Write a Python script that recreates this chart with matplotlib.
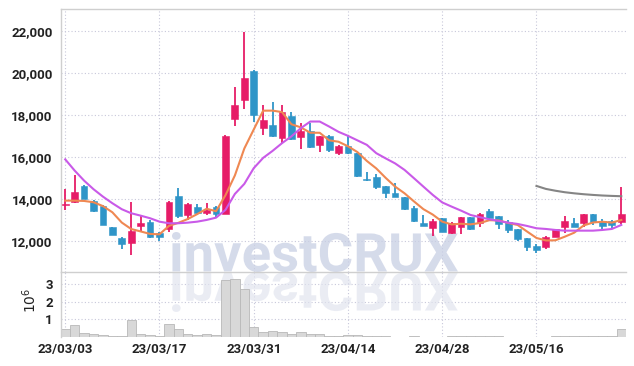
import numpy as np
import matplotlib
matplotlib.use("Agg")
import matplotlib.pyplot as plt
import matplotlib.ticker as mticker
from matplotlib.textpath import TextPath
from matplotlib.font_manager import FontProperties
from matplotlib.patches import PathPatch
from matplotlib.transforms import Affine2D, IdentityTransform

# trading days (yy/mm/dd)
dates = (
    ["23/03/%02d" % d for d in [3, 6, 7, 8, 9, 10, 13, 14, 15, 16, 17, 20, 21, 22, 23, 24, 27, 28, 29, 30, 31]]
    + ["23/04/%02d" % d for d in [3, 4, 5, 6, 7, 10, 11, 12, 13, 14, 17, 18, 19, 20, 21, 24, 25, 26, 27, 28]]
    + ["23/05/%02d" % d for d in [2, 3, 4, 8, 9, 10, 11, 12, 15, 16, 17, 18, 19, 22, 23, 24, 25, 26, 30]]
)

opens = [13730, 13883, 14632, 13916, 13677, 12660, 12149, 11925, 12736, 12913,
         12402, 12565, 14155, 13247, 13629, 13357, 13644, 13295, 17817, 18724,
         20123, 17387, 17545, 16939, 17989, 16986, 17273, 16576, 17020, 16222,
         16542, 16193, 14952, 15076, 14632, 14312, 14093, 13596, 12879, 12641,
         13108, 12374, 12689, 13137, 12851, 13438, 13200, 12927, 12578, 12135,
         11767, 11705, 12211, 12689, 12879, 12851, 13280, 12975, 12961, 12927]
highs = [14475, 15157, 14680, 13950, 13700, 12680, 12200, 13883, 13233, 13000,
         12450, 13930, 14522, 13800, 13758, 13806, 13660, 17050, 19326, 21952,
         20150, 18500, 18658, 18500, 18180, 17626, 17626, 17030, 17040, 16560,
         17067, 16200, 15315, 15190, 14650, 14761, 14100, 13677, 13247, 13040,
         13120, 12927, 13150, 13150, 13357, 13534, 13210, 13010, 12590, 12150,
         11862, 12220, 12580, 13214, 13118, 13310, 13300, 13056, 13000, 14570]
lows = [13486, 13806, 13990, 13400, 12750, 12290, 11638, 11337, 12450, 12150,
        12020, 12435, 13090, 13010, 13247, 13247, 13090, 13290, 17497, 18295,
        17703, 17067, 16986, 16671, 16829, 16385, 16432, 16270, 16270, 16112,
        16150, 15076, 14880, 14489, 14045, 14100, 13490, 12927, 12700, 12244,
        12420, 12340, 12340, 12550, 12689, 13010, 12565, 12402, 12006, 11543,
        11447, 11609, 12200, 12374, 12680, 12689, 12770, 12578, 12609, 12818]
closes = [13790, 14331, 14026, 13438, 12770, 12307, 11877, 12484, 12865, 12183,
          12211, 13883, 13214, 13772, 13357, 13486, 13295, 17020, 18500, 19775,
          18022, 17784, 17034, 18151, 16876, 17273, 16509, 17020, 16351, 16542,
          16193, 15124, 14904, 14570, 14283, 14121, 13520, 12975, 12722, 12975,
          12450, 12851, 13137, 12578, 13295, 13118, 12803, 12531, 12101, 11734,
          11576, 12211, 12565, 12961, 12689, 13295, 12927, 12736, 12770, 13295]

# moving averages
ma5 = [13930, 13930, 13915, 13853, 13669, 13374, 12884, 12575, 12461, 12343,
       12324, 12725, 12871, 13053, 13287, 13542, 13425, 14186, 15132, 16415,
       17322, 18220, 18223, 18153, 17573, 17424, 17169, 17166, 16806, 16739,
       16523, 16246, 15823, 15467, 15015, 14600, 14280, 13894, 13524, 13263,
       12928, 12795, 12827, 12798, 12862, 12996, 12986, 12865, 12770, 12457,
       12149, 12031, 12037, 12209, 12400, 12744, 12887, 12922, 12883, 13005]
ma20 = [15898, 15363, 14885, 14475, 14121, 13806, 13520, 13328, 13214, 13090,
        12927, 12851, 12851, 12880, 12927, 13009, 13118, 13486, 14250, 14728,
        15478, 15969, 16303, 16671, 16996, 17387, 17703, 17703, 17464, 17211,
        17020, 16805, 16590, 16194, 15945, 15706, 15396, 15000, 14599, 14202,
        13844, 13644, 13453, 13247, 13138, 13042, 12961, 12880, 12818, 12722,
        12612, 12579, 12531, 12498, 12498, 12498, 12498, 12531, 12579, 12770]
ma_long_idx = [50, 51, 52, 53, 54, 55, 56, 57, 58, 59]
ma_long = [14631, 14489, 14403, 14331, 14279, 14236, 14202, 14174, 14155, 14140]

# volume in millions
volume = [0.43, 0.70, 0.20, 0.17, 0.10, 0.05, 0.04, 0.98, 0.15, 0.10,
          0.03, 0.76, 0.43, 0.15, 0.12, 0.15, 0.10, 3.20, 3.26, 2.70,
          0.54, 0.30, 0.35, 0.30, 0.15, 0.26, 0.15, 0.15, 0.07, 0.05,
          0.13, 0.13, 0.03, 0.03, 0.07, 0.02, 0.02, 0.03, 0.02, 0.02,
          0.02, 0.04, 0.04, 0.04, 0.03, 0.04, 0.03, 0.02, 0.02, 0.02,
          0.02, 0.02, 0.08, 0.08, 0.04, 0.05, 0.03, 0.03, 0.03, 0.45]

UP = "#e61c67"
DOWN = "#2f95c8"
GRID = "#c8c8da"
SPINE = "#cfcfcf"
TXT = "#222222"
FONT = ["Roboto", "DejaVu Sans"]

plt.rcParams["font.family"] = FONT

W, H = 634, 366
fig = plt.figure(figsize=(W / 100, H / 100), dpi=100)
L, R = 61 / W, 626 / W
ax = fig.add_axes([L, 1 - 272 / H, R - L, (272 - 9) / H])
axv = fig.add_axes([L, 1 - 337 / H, R - L, (337 - 272) / H], sharex=ax)

x = np.arange(len(dates))
o, h, l, c = map(np.array, (opens, highs, lows, closes))
up = c >= o
cols = np.where(up, UP, DOWN)
body_lo = np.minimum(o, c)
body_h = np.maximum(np.abs(c - o), 40)

ax.vlines(x, l, h, colors=cols, lw=1.3, zorder=3)
ax.bar(x, body_h, bottom=body_lo, width=0.72, color=cols, edgecolor=cols,
       linewidth=0.4, zorder=4)

ax.plot(x, ma5, color="#ef8852", lw=1.5, zorder=5)
ax.plot(x, ma20, color="#c95ae8", lw=1.5, zorder=5)
ax.plot(ma_long_idx, ma_long, color="#858585", lw=1.5, zorder=5)

ax.set_xlim(-0.45, 59.5)
ax.set_ylim(10526, 23070)
ax.yaxis.set_major_locator(mticker.MultipleLocator(2000))
ax.yaxis.set_major_formatter(mticker.FuncFormatter(lambda v, p: f"{v:,.0f}"))

tick_idx = [0, 10, 20, 30, 40, 50]
for a in (ax, axv):
    a.set_xticks(tick_idx)
    a.grid(True, color=GRID, linestyle=(0, (1, 2)), linewidth=0.8)
    a.set_axisbelow(True)
    for s in ("right", "bottom"):
        a.spines[s].set_visible(False)
    for s in ("left", "top"):
        a.spines[s].set_color(SPINE)
        a.spines[s].set_linewidth(1.0)
    a.tick_params(length=0, labelsize=9.5, labelcolor=TXT, pad=6)

ax.tick_params(labelbottom=False)
axv.set_xticklabels([dates[i] for i in tick_idx])
axv.tick_params(axis="x", pad=4)

axv.bar(x, volume, width=1.0, color="#d8d8d8", edgecolor="#b8b8b8", linewidth=0.6, zorder=2)
axv.set_ylim(0, 3.68)
axv.set_yticks([1, 2, 3])
for a in (ax, axv):
    for t in a.get_yticklabels() + a.get_xticklabels():
        t.set_fontweight("bold")
fig.text(30 / W, 1 - 300 / H, r"$10^6$", rotation=90, ha="center", va="center",
         fontsize=10, color=TXT)

# watermark with reflection
tp = TextPath((0, 0), "investCRUX", size=100,
              prop=FontProperties(family=FONT, weight="bold"))
ext = tp.get_extents()
x0, x1, ytop, ybase = 172, 458, 232, 272
sx = (x1 - x0) / ext.width
sy = (ybase - ytop) / ext.height
main_tr = Affine2D().translate(-ext.x0, -ext.y0).scale(sx, sy).translate(x0, H - ybase)
refl_tr = Affine2D().translate(-ext.x0, -ext.y0).scale(sx, -sy).translate(x0, H - ybase)
ax.add_patch(PathPatch(main_tr.transform_path(tp), transform=IdentityTransform(),
                       facecolor="#c8cfe4", edgecolor="none", alpha=0.75, zorder=1))
axv.add_patch(PathPatch(refl_tr.transform_path(tp), transform=IdentityTransform(),
                        facecolor="#e0e3ee", edgecolor="none", alpha=0.65, zorder=1))

fig.savefig("out.png", dpi=100, facecolor="white")
